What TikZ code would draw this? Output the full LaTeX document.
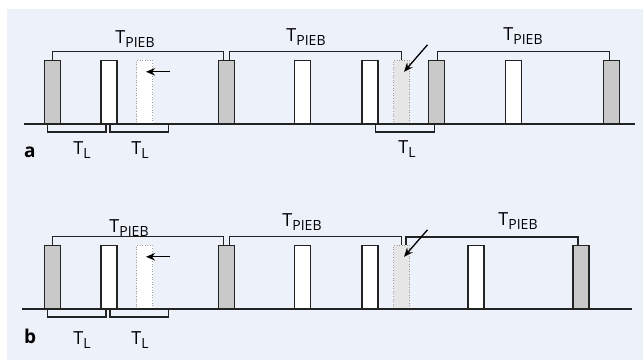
\documentclass[tikz,border=0pt]{standalone}
\usepackage{fontspec}
\setmainfont{Open Sans}
\usetikzlibrary{arrows,arrows.meta}
\pgfdeclarelayer{background}
\pgfsetlayers{background,main}
\definecolor{panelblue}{RGB}{236,241,250}
\definecolor{piebgray}{RGB}{200,201,200}
\definecolor{ghostgray}{RGB}{230,230,230}
\definecolor{ink}{RGB}{35,35,35}
\newcommand{\Tsub}[1]{T\raisebox{-4pt}{\fontsize{14}{14}\selectfont #1}}
\tikzstyle{pulse}=[rectangle,draw=ink,line width=1.4pt,minimum width=16pt,minimum height=63pt,inner sep=0pt,anchor=south]
\tikzstyle{pieb}=[pulse,fill=piebgray]
\tikzstyle{demand}=[pulse,fill=white]
\tikzstyle{moved}=[pulse,draw=gray!75,line width=1.2pt,dash pattern=on 1pt off 1.6pt,fill=white]
\tikzstyle{interval}=[draw=ink,line width=1.4pt]
\tikzstyle{axis}=[draw=ink,line width=1.4pt]
\tikzstyle{shift arrow}=[draw,line width=1.3pt,-{Stealth[length=9pt,width=7.5pt]}]
\tikzstyle{weight}=[font=\fontsize{18}{18}\selectfont,anchor=base,inner sep=0pt]
\tikzstyle{panel}=[font=\fontsize{19}{19}\selectfont\bfseries,anchor=base west,inner sep=0pt]

\begin{document}
\begin{tikzpicture}[x=1pt,y=1pt]
	\useasboundingbox (0,0) rectangle (643,360);
	\begin{pgfonlayer}{background}
		\fill[panelblue] (7,0) rectangle (643,351);
	\end{pgfonlayer}

	% First we draw the pulses of panel a
	\foreach \pos/\name in {52.5/a1, 226.5/a4, 436.5/a8, 611.5/a10}
	\node[pieb] (\name) at (\pos,236) {};
	\foreach \pos/\name in {109/a2, 302.5/a5, 370/a6, 513.5/a9}
	\node[demand] (\name) at (\pos,236) {};
	\node[moved] (a3) at (144.5,236) {};
	\node[moved, fill=ghostgray] (a7) at (401.5,236) {};
	\draw[axis] (24,236) -- (635,236);

	% Intervals above and below
	\path[interval] (a1.north) -- ++(0,8) -| ([xshift=-3]a4.north);
	\path[interval] ([xshift=3]a4.north) -- ++(0,8) -| (a7.north);
	\path[interval] ([xshift=1]a8.north) -- ++(0,8) -| ([xshift=-2]a10.north);
	\path[interval] ([xshift=-5]a1.south) -- ++(0,-8) -| ([xshift=-3]a2.south);
	\path[interval] ([xshift=1]a2.south) -- ++(0,-8) -| ([xshift=24]a3.south);
	\path[interval] ([xshift=5.5]a6.south) -- ++(0,-8) -| ([xshift=-2]a8.south);

	\foreach \pos/\name in {{(135,317)/ta1}, {(306,319)/ta2}, {(523,320)/ta3}}
	\node[weight] (\name) at \pos {\Tsub{PIEB}};
	\foreach \pos/\name in {{(82,206)/la1}, {(140,206)/la2}, {(407,207)/la3}}
	\node[weight] (\name) at \pos {\Tsub{L}};
	\node[panel] (pa) at (24,203) {a};

	\path[shift arrow] ([shift={(25.5,-12)}]a3.north) -- ([shift={(1.5,-12)}]a3.north);
	\path[shift arrow] ([shift={(26,15)}]a7.north) -- ([shift={(2.5,-12)}]a7.north);

	% Then the pulses of panel b
	\foreach \pos/\name in {52.5/b1, 226.5/b4, 581/b9}
	\node[pieb] (\name) at (\pos,51) {};
	\foreach \pos/\name in {109/b2, 302.5/b5, 370/b6, 476/b8}
	\node[demand] (\name) at (\pos,51) {};
	\node[moved] (b3) at (144.5,51) {};
	\node[moved, fill=ghostgray] (b7) at (401.5,51) {};
	\draw[axis] (22,51) -- (632,51);

	\path[interval] (b1.north) -- ++(0,8) -| ([xshift=-3]b4.north);
	\path[interval] ([xshift=3]b4.north) -- ++(0,8) -| (b7.north);
	\path[interval] ([xshift=4.5]b7.north) -- ++(0,8) -| ([xshift=-3]b9.north);
	\path[interval] ([xshift=-5]b1.south) -- ++(0,-8) -| ([xshift=-3]b2.south);
	\path[interval] ([xshift=1]b2.south) -- ++(0,-8) -| ([xshift=24]b3.south);

	\foreach \pos/\name in {{(129,128)/tb1}, {(302,134)/tb2}, {(518,135)/tb3}}
	\node[weight] (\name) at \pos {\Tsub{PIEB}};
	\foreach \pos/\name in {{(82,16)/lb1}, {(140,16)/lb2}}
	\node[weight] (\name) at \pos {\Tsub{L}};
	\node[panel] (pb) at (24,17) {b};

	\path[shift arrow] ([shift={(25.5,-12)}]b3.north) -- ([shift={(1.5,-12)}]b3.north);
	\path[shift arrow] ([shift={(26,15)}]b7.north) -- ([shift={(2.5,-12)}]b7.north);
\end{tikzpicture}
\end{document}
